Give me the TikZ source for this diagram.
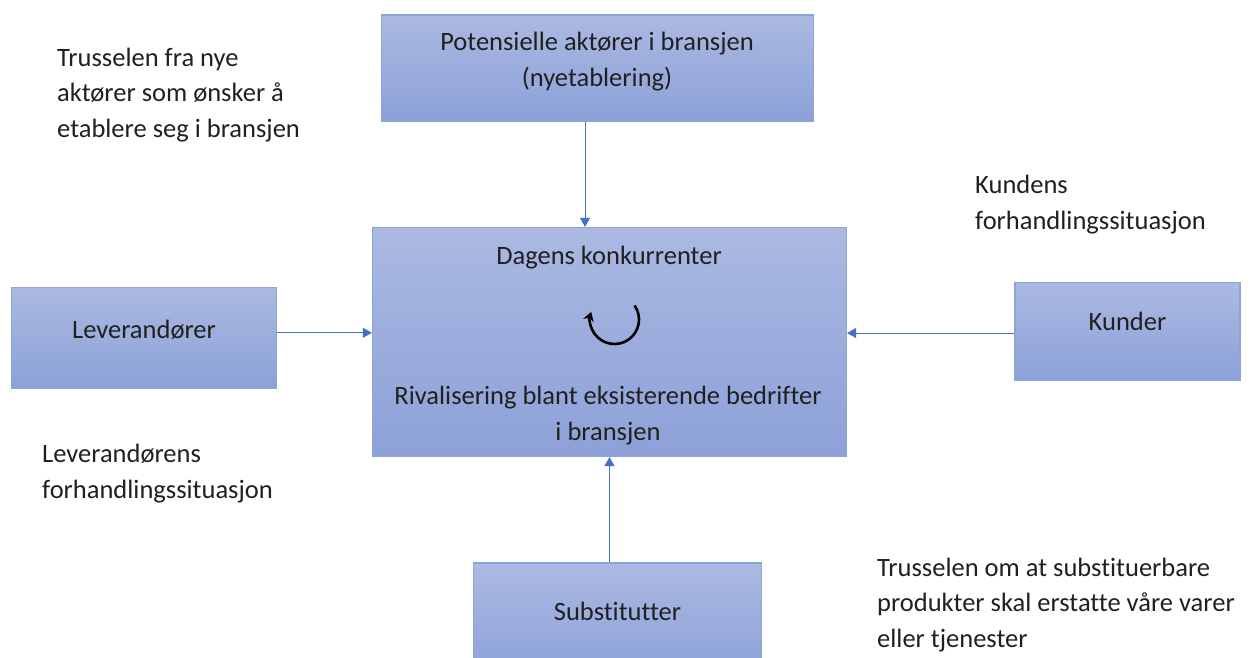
\documentclass[tikz,border=0pt]{standalone}
\usepackage{fontspec}
\setmainfont{Carlito}[Ligatures=NoCommon]
\usetikzlibrary{arrows.meta}
\definecolor{boxtop}{RGB}{171,185,226}
\definecolor{boxbot}{RGB}{140,161,216}
\definecolor{boxline}{RGB}{142,163,218}
\definecolor{conncol}{RGB}{68,114,196}
\definecolor{txtcol}{RGB}{32,32,32}
\tikzset{
  fbox/.style={draw=boxline, line width=1.2pt, top color=boxtop, bottom color=boxbot, inner sep=0pt, rectangle},
  lbl/.style={inner sep=0pt, text=txtcol, font=\fontsize{26.5}{35.5}\selectfont},
  conn/.style={draw=conncol, line width=0.9pt, -{Triangle[length=9pt,width=10pt]}},
}
\begin{document}
\begin{tikzpicture}[x=1pt,y=-1pt]
\useasboundingbox (0,0) rectangle (1254,657);
\clip (0,0) rectangle (1254,657);
\fill[white] (0,0) rectangle (1254,657);
% boxes
\node[fbox, minimum width=432pt, minimum height=106pt] (pot) at (597.5,68) {};
\node[fbox, minimum width=474pt, minimum height=229pt] (cen) at (609.5,342) {};
\node[fbox, minimum width=265pt, minimum height=101pt] (lev) at (144,337.8) {};
\node[fbox, minimum width=225pt, minimum height=98pt] (kun) at (1127.5,331.7) {};
\node[fbox, minimum width=288pt, minimum height=117pt] (sub) at (617.5,621.5) {};
% box texts (base = last line's baseline)
\node[lbl, align=center, anchor=base] (pott) at (597,86) {Potensielle aktører i bransjen\\(nyetablering)};
\node[lbl, anchor=base] (dag) at (609,264) {Dagens konkurrenter};
\node[lbl, align=center, anchor=base] (riv) at (608,440) {Rivalisering blant eksisterende bedrifter\\i bransjen};
\node[lbl, anchor=base] (levt) at (144,338) {Leverandører};
\node[lbl, anchor=base] (kunt) at (1127.5,330) {Kunder};
\node[lbl, anchor=base] (subt) at (617.5,620) {Substitutter};
% free texts
\node[lbl, align=left, anchor=base west] (t1) at (57,137) {Trusselen fra nye\\aktører som ønsker å\\etablere seg i bransjen};
\node[lbl, align=left, anchor=base west] (t2) at (975,229) {Kundens\\forhandlingssituasjon};
\node[lbl, align=left, anchor=base west] (t3) at (42,498) {Leverandørens\\forhandlingssituasjon};
\node[lbl, align=left, anchor=base west] (t4) at (877,647) {Trusselen om at substituerbare\\produkter skal erstatte våre varer\\eller tjenester};
% connectors
\draw[conn] ([xshift=-12.5pt]pot.south) -- ([xshift=-12.5pt]pot.south |- cen.north);
\draw[conn] ([yshift=5pt]lev.east) -- ([yshift=5pt]lev.east -| cen.west);
\draw[conn] ([yshift=-1.3pt]kun.west) -- ([yshift=-1.3pt]kun.west -| cen.east);
\draw[conn] (sub.north -| cen.south) -- (cen.south);
% rotation symbol
\coordinate (rc) at (614.5,319.5);
\draw[line width=2.6pt, black, -{Stealth[length=9pt,width=11pt]}] (rc) ++(35:24.5pt) arc[start angle=35, end angle=-198, radius=24.5pt];
\end{tikzpicture}
\end{document}
